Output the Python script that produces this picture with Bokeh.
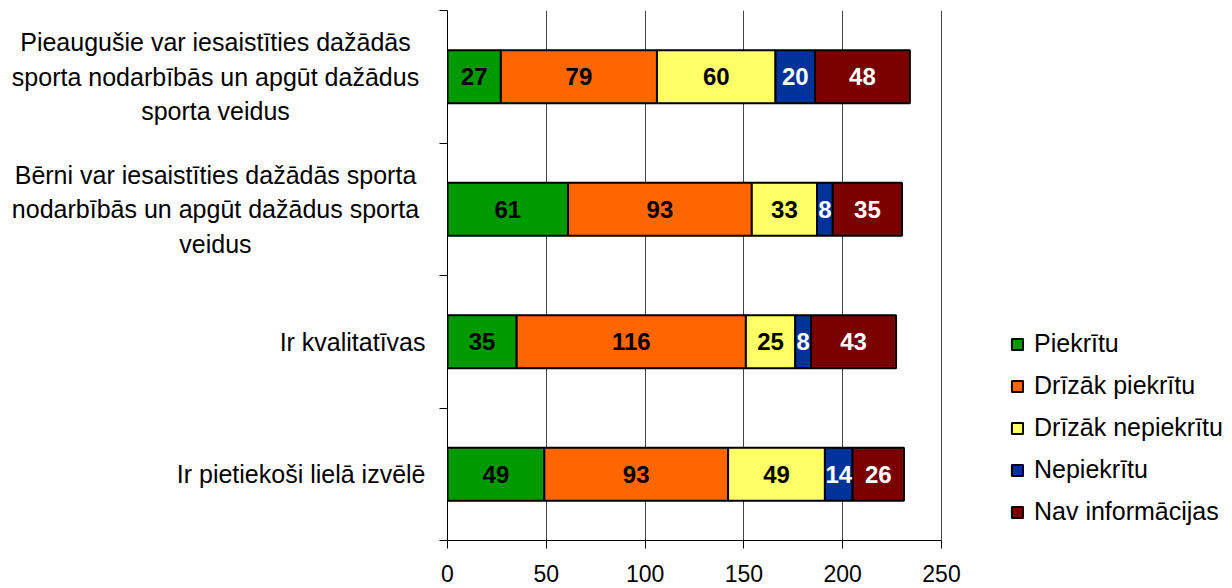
import numpy as np
from bokeh.plotting import figure
from bokeh.layouts import row
from bokeh.models import (ColumnDataSource, Range1d, FixedTicker, Legend, LegendItem)
from bokeh.core.properties import value
from bokeh.embed import file_html
from bokeh.resources import INLINE

# ---- data ----
categories = [
    "Pieaugušie var iesaistīties dažādās\nsporta nodarbībās un apgūt dažādus\nsporta veidus",
    "Bērni var iesaistīties dažādās sporta\nnodarbībās un apgūt dažādus sporta\nveidus",
    "Ir kvalitatīvas",
    "Ir pietiekoši lielā izvēlē",
]
series_names = ["Piekrītu", "Drīzāk piekrītu", "Drīzāk nepiekrītu", "Nepiekrītu", "Nav informācijas"]
piekritu = [27, 61, 35, 49]
drizak_piekritu = [79, 93, 116, 93]
drizak_nepiekritu = [60, 33, 25, 49]
nepiekritu = [20, 8, 8, 14]
nav_informacijas = [48, 35, 43, 26]
x_ticks = [0, 50, 100, 150, 200, 250]

series_values = [piekritu, drizak_piekritu, drizak_nepiekritu, nepiekritu, nav_informacijas]
colors = ["#009900", "#FF6600", "#FFFF66", "#003399", "#7A0000"]
text_colors = ["black", "black", "black", "white", "white"]

FONT = "Liberation Sans"
n = len(categories)
ypos = [n - 0.5 - i for i in range(n)]
y_range = Range1d(0, n)

H = 588
TOP, BOTTOM = 10, 48
LEFT_W = 427
MAIN_W = 799
MAIN_BORDER_L = 20
AXIS_PX = 494          # pixel length of 0..250
frame_w = MAIN_W - MAIN_BORDER_L
x_max = x_ticks[-1]
x_end = x_max * frame_w / AXIS_PX

# ---- left figure: category labels ----
lf = figure(width=LEFT_W, height=H, output_backend="svg", toolbar_location=None,
            x_range=Range1d(0, LEFT_W), y_range=y_range,
            x_axis_type=None, y_axis_type=None,
            min_border_left=0, min_border_right=0,
            min_border_top=TOP, min_border_bottom=BOTTOM)
lf.outline_line_color = None
lf.grid.visible = False
multi = [i for i, c in enumerate(categories) if "\n" in c]
single = [i for i, c in enumerate(categories) if "\n" not in c]
src_multi = ColumnDataSource(dict(y=[ypos[i] for i in multi],
                                  text=[categories[i] for i in multi]))
src_single = ColumnDataSource(dict(y=[ypos[i] for i in single],
                                   text=[categories[i] for i in single]))
lf.text(x=215, y="y", text="text", source=src_multi, text_align="center",
        text_baseline="middle", text_font=value(FONT), text_font_size="25px",
        text_line_height=1.24, text_color="black")
lf.text(x=425, y="y", text="text", source=src_single, text_align="right",
        text_baseline="middle", text_font=value(FONT), text_font_size="25px",
        text_color="black")

# ---- main figure ----
keys = ["s%d" % k for k in range(len(series_names))]
data = {"y": ypos}
for k, vals in zip(keys, series_values):
    data[k] = vals
source = ColumnDataSource(data)

p = figure(width=MAIN_W, height=H, output_backend="svg", toolbar_location=None,
           x_range=Range1d(0, x_end), y_range=y_range,
           min_border_left=MAIN_BORDER_L, min_border_right=0, min_border_top=TOP,
           min_border_bottom=BOTTOM)
p.outline_line_color = None

renderers = p.hbar_stack(keys, y="y", height=0.4, color=colors,
                         line_color="black", line_width=2, source=source)

arr = np.array(series_values, dtype=float)
cum = np.cumsum(arr, axis=0)
starts = cum - arr
lx, ly, lt, lc = [], [], [], []
for s in range(arr.shape[0]):
    for i in range(n):
        lx.append((starts[s, i] + cum[s, i]) / 2)
        ly.append(ypos[i])
        lt.append(str(int(arr[s, i])))
        lc.append(text_colors[s])
lab_src = ColumnDataSource(dict(x=lx, y=ly, text=lt, color=lc))
p.text(x="x", y="y", text="text", text_color="color", source=lab_src,
       text_align="center", text_baseline="middle", text_font=value(FONT),
       text_font_style="bold", text_font_size="24px")

p.xaxis.ticker = FixedTicker(ticks=x_ticks)
p.xaxis.bounds = (0, x_max)
p.xaxis.major_tick_out = 8
p.xaxis.major_tick_in = 0
p.xaxis.minor_tick_line_color = None
p.xaxis.axis_line_color = "black"
p.xaxis.major_tick_line_color = "black"
p.xaxis.major_label_text_font = FONT
p.xaxis.major_label_text_font_size = "23px"
p.xaxis.major_label_text_color = "black"
p.xaxis.major_label_standoff = 16

p.yaxis.ticker = FixedTicker(ticks=[], minor_ticks=list(range(n + 1)))
p.yaxis.minor_tick_out = 8
p.yaxis.minor_tick_in = 0
p.yaxis.minor_tick_line_color = "black"
p.yaxis.major_tick_line_color = None
p.yaxis.axis_line_color = "black"
p.yaxis.major_label_text_font_size = "0px"
p.yaxis.major_label_standoff = 0

p.xgrid.ticker = FixedTicker(ticks=x_ticks)
p.xgrid.grid_line_color = "#444444"
p.ygrid.visible = False

legend = Legend(items=[LegendItem(label=name, renderers=[r])
                       for name, r in zip(series_names, renderers)],
                location=(563, 14), orientation="vertical",
                glyph_width=14, glyph_height=14, label_standoff=10,
                label_height=28, spacing=13, padding=10, margin=0,
                label_text_font=FONT, label_text_font_size="25px",
                label_text_color="black",
                border_line_color=None, background_fill_alpha=0)
p.add_layout(legend)

layout = row(lf, p, spacing=0)
open("out.html", "w").write(file_html(layout, INLINE))
